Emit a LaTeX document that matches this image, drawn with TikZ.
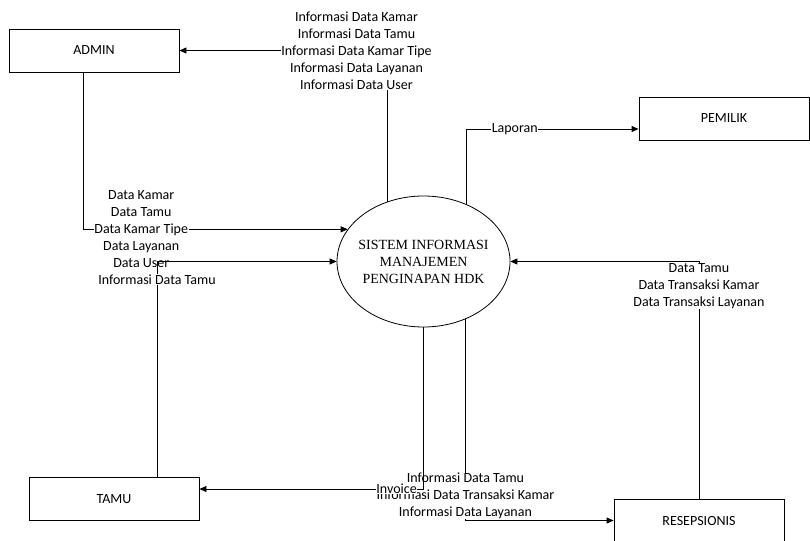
\documentclass[tikz,border=0pt]{standalone}
\usepackage{fontspec}
\setmainfont{Carlito}
\newfontfamily\procfont{Liberation Serif}
\usetikzlibrary{arrows.meta,shapes.geometric}

\begin{document}
\begin{tikzpicture}[x=1pt, y=-1pt,
  entity/.style={draw, line width=0.9pt, minimum width=170pt, minimum height=43pt, font=\fontsize{14}{17}\selectfont},
  proc/.style={draw, ellipse, line width=0.8pt, minimum width=173pt, minimum height=131pt, inner xsep=-5pt, inner ysep=0pt, align=center, font=\procfont\fontsize{14}{17}\selectfont},
  flow/.style={line width=0.9pt, -{Triangle[length=7pt,width=6pt]}},
  lbl/.style={fill=white, inner sep=0.5pt, align=center, font=\fontsize{14}{17}\selectfont}]
\useasboundingbox (0,0) rectangle (810,540);
\node[entity] (admin) at (94,50.5) {ADMIN};
\node[entity] (pemilik) at (724,118.5) {PEMILIK};
\node[entity] (tamu) at (114,499) {TAMU};
\node[entity] (resepsionis) at (699,520.5) {RESEPSIONIS};
\node[proc] (sistem) at (423.5,261.5) {SISTEM INFORMASI\\MANAJEMEN\\PENGINAPAN HDK};
\draw[flow] (sistem.121) |- node[lbl, pos=0.5, xshift=-31pt] {Informasi Data Kamar\\Informasi Data Tamu\\Informasi Data Kamar Tipe\\Informasi Data Layanan\\Informasi Data User} (admin.east);
\draw[flow] (sistem.53) |- node[lbl, pos=0.64] {Laporan} ([yshift=-10.5pt]pemilik.west);
\draw[flow] ([xshift=-11pt]admin.south) |- node[lbl, pos=0.61] {Data Kamar\\Data Tamu\\Data Kamar Tipe\\Data Layanan\\Data User} (sistem.157);
\draw[flow] ([xshift=43pt]tamu.north) |- node[lbl, pos=0.458] {Informasi Data Tamu} (sistem.west);
\draw[flow] (resepsionis.north) |- node[lbl, pos=0.5, yshift=-24.5pt] {Data Tamu\\Data Transaksi Kamar\\Data Transaksi Layanan} (sistem.east);
\draw[flow] (sistem.-54) |- node[lbl, pos=0.439] {Informasi Data Tamu\\Informasi Data Transaksi Kamar\\Informasi Data Layanan} (resepsionis.west);
\draw[flow] (sistem.south) |- node[lbl, pos=0.56] {Invoice} ([yshift=10pt]tamu.east);
\end{tikzpicture}
\end{document}
